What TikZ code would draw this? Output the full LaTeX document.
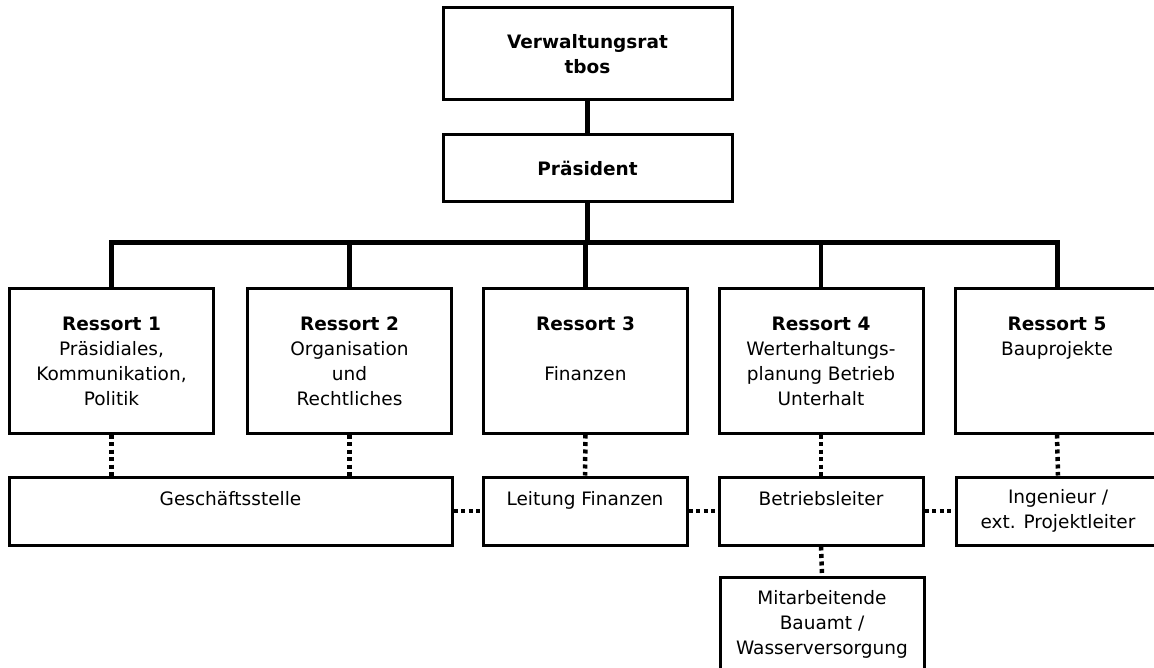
\documentclass[tikz,border=0pt]{standalone}
\usepackage{fontspec}
\setmainfont{DejaVu Sans}
\begin{document}
\begin{tikzpicture}[x=1pt,y=-1pt,
  box/.style={draw, line width=3pt, rectangle, inner sep=0pt, align=center,
    font=\fontsize{18.5}{25}\selectfont},
  topbox/.style={box, minimum width=289pt},
  rbox/.style={box, minimum width=204pt, minimum height=144pt},
  lbox/.style={box, minimum width=204pt, minimum height=68pt},
  conn/.style={line width=4.5pt},
  busline/.style={line width=5pt, line join=miter},
  dots/.style={line width=4.5pt, dash pattern=on 4pt off 3.5pt}]
\clip (0,0) rectangle (1154,668);
% top
\node[topbox, minimum height=92pt] (vr) at (587.5,54) {\textbf{Verwaltungsrat}\\\textbf{tbos}};
\node[topbox, minimum height=67pt] (pr) at (587.5,168.5) {\textbf{Präsident}};
% ressorts
\node[rbox] (r1) at (111.5,361) {\textbf{Ressort 1}\\Präsidiales,\\Kommunikation,\\Politik};
\node[rbox] (r2) at (349.5,361) {\textbf{Ressort 2}\\Organisation\\und\\Rechtliches};
\node[rbox] (r3) at (585.5,361) {\textbf{Ressort 3}\\\mbox{}\\Finanzen\\\mbox{}};
\node[rbox] (r4) at (821,361) {\textbf{Ressort 4}\\Werterhaltungs-\\planung Betrieb\\Unterhalt};
\node[rbox] (r5) at (1057,361) {\textbf{Ressort 5}\\Bauprojekte\\\mbox{}\\\mbox{}};
% lower level
\node[box, minimum width=443pt, minimum height=68pt] (gs) at (230.5,511) {Geschäftsstelle\\\mbox{}};
\node[lbox] (lf) at (585,511) {Leitung Finanzen\\\mbox{}};
\node[lbox] (bl) at (821,511) {Betriebsleiter\\\mbox{}};
\node[lbox] (ing) at (1058,511) {Ingenieur /\\ext. Projektleiter};
\node[lbox, minimum height=94pt] (mit) at (822,624) {Mitarbeitende\\Bauamt /\\Wasserversorgung};
% solid connectors
\coordinate (bus) at (0,243);
\draw[conn] (vr.south) -- (pr.north);
\draw[conn] (pr.south) -- (pr.south |- bus);
\draw[busline] (r1.north) -- (r1.north |- bus) -- (r5.north |- bus) -- (r5.north);
\foreach \r in {r2,r3,r4}
  \draw[conn] (\r.north) -- (\r.north |- bus);
% dotted connectors
\draw[dots] (r1.south) -- (r1.south |- gs.north);
\draw[dots] (r2.south) -- (r2.south |- gs.north);
\draw[dots] (r3.south) -- (lf.north);
\draw[dots] (r4.south) -- (bl.north);
\draw[dots] (r5.south) -- (ing.north);
\draw[dots] (gs.east) -- (lf.west);
\draw[dots] (lf.east) -- (bl.west);
\draw[dots] (bl.east) -- (ing.west);
\draw[dots] (bl.south) -- (mit.north);
\end{tikzpicture}
\end{document}
